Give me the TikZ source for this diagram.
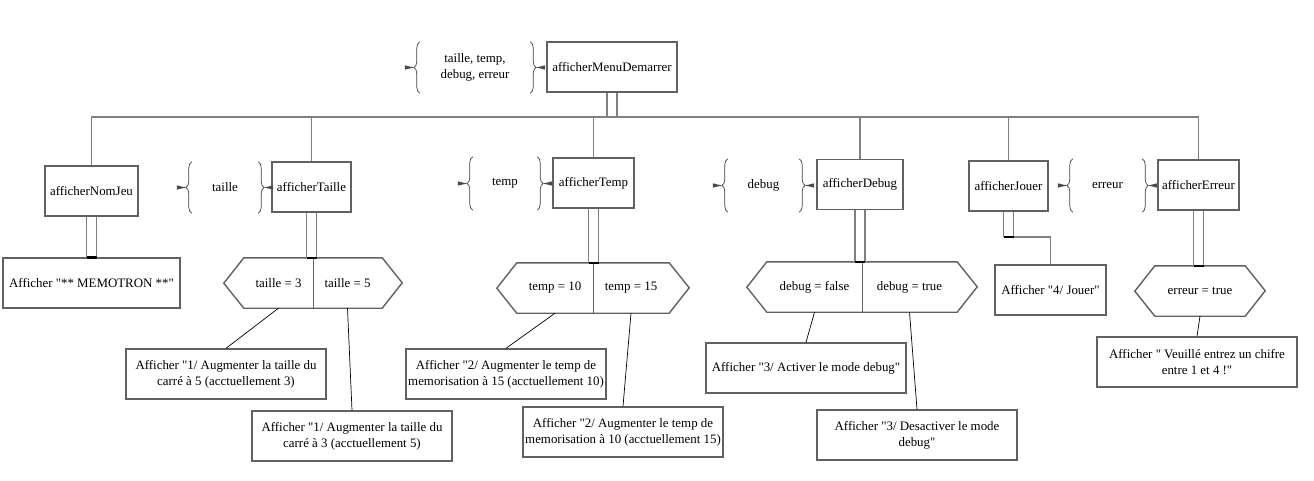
\documentclass[tikz,border=0pt]{standalone}
\usepackage{fontspec}
\setmainfont{Liberation Serif}[Ligatures=TeXOff]
\usetikzlibrary{calc, decorations.pathreplacing}

\definecolor{boxgray}{gray}{0.38}
\definecolor{linegray}{gray}{0.5}

% double link: two parallel lines closed by a dark bar at the bottom
\newcommand{\dlink}[2]{%
  \draw[bus] ($(#1)+(-5,0)$) -- ($(#2)+(-5,0)$)
             ($(#1)+(5,0)$) -- ($(#2)+(5,0)$);
  \draw[line width=2.4pt] ($(#2)+(-5,0)$) -- ($(#2)+(5,0)$);}

% braces around a parameter node, with the small tabs at the tips
\newcommand{\params}[1]{%
  \draw[brc] (#1.south west) -- (#1.north west);
  \draw[brc] (#1.north east) -- (#1.south east);
  \fill[black!70] ($(#1.west)+(-6,0)$) -- ++(-9,-2.2) -- ++(0,4.4) -- cycle;
  \fill[black!70] ($(#1.east)+(6,0)$) -- ++(9,-2.2) -- ++(0,4.4) -- cycle;}

\begin{document}
\begin{tikzpicture}[x=1pt, y=-1pt,
    txt/.style={font=\fontsize{12.9}{16}\selectfont},
    box/.style={txt, draw=boxgray, line width=1.4pt, minimum height=50pt,
                inner sep=2pt, align=center},
    half/.style={txt, minimum height=50pt, inner sep=0pt},
    param/.style={txt, inner sep=0pt, align=center},
    brc/.style={draw=black!75, line width=0.7pt, decorate,
                decoration={brace, amplitude=6pt, aspect=0.5}},
    hex/.style={draw=boxgray, line width=1.4pt},
    bus/.style={draw=linegray, line width=1.6pt},
    link/.style={draw, line width=0.7pt}
  ]
  \useasboundingbox (0,0) rectangle (1314,481);

  % Root
  \node[box, minimum width=130pt] (root) at (612,67) {afficherMenuDemarrer};
  \node[param, minimum width=110pt, minimum height=51pt] (pRoot) at (475,67.5)
    {taille, temp,\\debug, erreur};
  \params{pRoot}

  % Modules
  \node[box, minimum width=93pt] (nomJeu) at (91.5,191)   {afficherNomJeu};
  \node[box, minimum width=79pt] (taille) at (311.5,187)  {afficherTaille};
  \node[box, minimum width=81pt] (temp)   at (593.5,183)  {afficherTemp};
  \node[box, minimum width=86pt] (debug)  at (860,184.5)  {afficherDebug};
  \node[box, minimum width=79pt] (jouer)  at (1008.5,186) {afficherJouer};
  \node[box, minimum width=81pt] (erreur) at (1198.5,185) {afficherErreur};

  % Parameters
  \node[param, minimum width=66pt, minimum height=51pt] (pTaille) at (225,187.5) {taille};
  \node[param, minimum width=64pt, minimum height=53pt] (pTemp)   at (505,183.5) {temp};
  \node[param, minimum width=71pt, minimum height=53pt] (pDebug)  at (763.5,185.5) {debug};
  \node[param, minimum width=69pt, minimum height=53pt] (pErreur) at (1107.5,185.5) {erreur};
  \foreach \p in {pTaille, pTemp, pDebug, pErreur} {
    \params{\p}
  }

  % Bus
  \coordinate (bus) at (0,117);
  \dlink{root.south}{root.south |- bus}
  \draw[bus] (nomJeu.north) -- (nomJeu.north |- bus) -- (erreur.north |- bus)
    -- (erreur.north);
  \foreach \m in {taille, temp, debug, jouer} {
    \draw[bus] (\m.north) -- (\m.north |- bus);
  }

  % Level 3
  \node[box, minimum width=177pt] (memo) at (91.5,283) {Afficher "** MEMOTRON **"};
  \dlink{nomJeu.south}{nomJeu.south |- memo.north}

  \node[half, minimum width=69pt] (hTa) at (278.5,283) {taille = 3};
  \node[half, minimum width=69pt] (hTb) at (347.5,283) {taille = 5};
  \node[half, minimum width=76pt] (hMa) at (555,288)   {temp = 10};
  \node[half, minimum width=76pt] (hMb) at (631,288)   {temp = 15};
  \node[half, minimum width=95pt] (hDa) at (814.5,287) {debug = false};
  \node[half, minimum width=95pt] (hDb) at (909.5,287) {debug = true};
  \foreach \a/\b in {hTa/hTb, hMa/hMb, hDa/hDb} {
    \draw[hex] (\a.north west) -- (\b.north east) -- ++(20,25) -- (\b.south east)
      -- (\a.south west) -- ++(-20,-25) -- cycle;
    \draw[hex] (\a.north east) -- (\a.south east);
  }
  \dlink{taille.south}{taille.south |- hTa.north}
  \dlink{temp.south}{temp.south |- hMa.north}
  \dlink{debug.south}{debug.south |- hDa.north}

  \node[half, minimum width=90pt] (hE) at (1200,291) {erreur = true};
  \draw[hex] (hE.north west) -- (hE.north east) -- ++(20,25) -- (hE.south east)
    -- (hE.south west) -- ++(-20,-25) -- cycle;
  \dlink{erreur.south}{erreur.south |- hE.north}

  \node[box, minimum width=111pt] (jouerTxt) at (1050.5,290) {Afficher "4/ Jouer"};
  \coordinate (jk) at ($(jouer.south)+(0,25)$);
  \dlink{jouer.south}{jk}
  \draw[bus] ($(jk)+(5,0)$) -| (jouerTxt.north);

  \node[box, minimum width=200pt] (erreurTxt) at (1197,362)
    {Afficher " Veuillé entrez un chifre\\entre 1 et 4 !"};
  \draw[link] (hE.south) -- (erreurTxt.north);

  % Level 4
  \node[box, minimum width=200pt] (t1) at (226,374)
    {Afficher "1/ Augmenter la taille du\\carré à 5 (acctuellement 3)};
  \node[box, minimum width=200pt] (t2) at (352,436)
    {Afficher "1/ Augmenter la taille du\\carré à 3 (acctuellement 5)};
  \node[box, minimum width=200pt] (m1) at (506,374)
    {Afficher "2/ Augmenter le temp de\\memorisation à 15 (acctuellement 10)};
  \node[box, minimum width=200pt] (m2) at (623,432)
    {Afficher "2/ Augmenter le temp de\\memorisation à 10 (acctuellement 15)};
  \node[box, minimum width=200pt] (d1) at (806,368)
    {Afficher "3/ Activer le mode debug"};
  \node[box, minimum width=200pt] (d2) at (917,435)
    {Afficher "3/ Desactiver le mode\\debug"};

  \foreach \h/\b in {hTa/t1, hTb/t2, hMa/m1, hMb/m2, hDa/d1, hDb/d2} {
    \draw[link] (\h.south) -- (\b.north);
  }
\end{tikzpicture}
\end{document}
